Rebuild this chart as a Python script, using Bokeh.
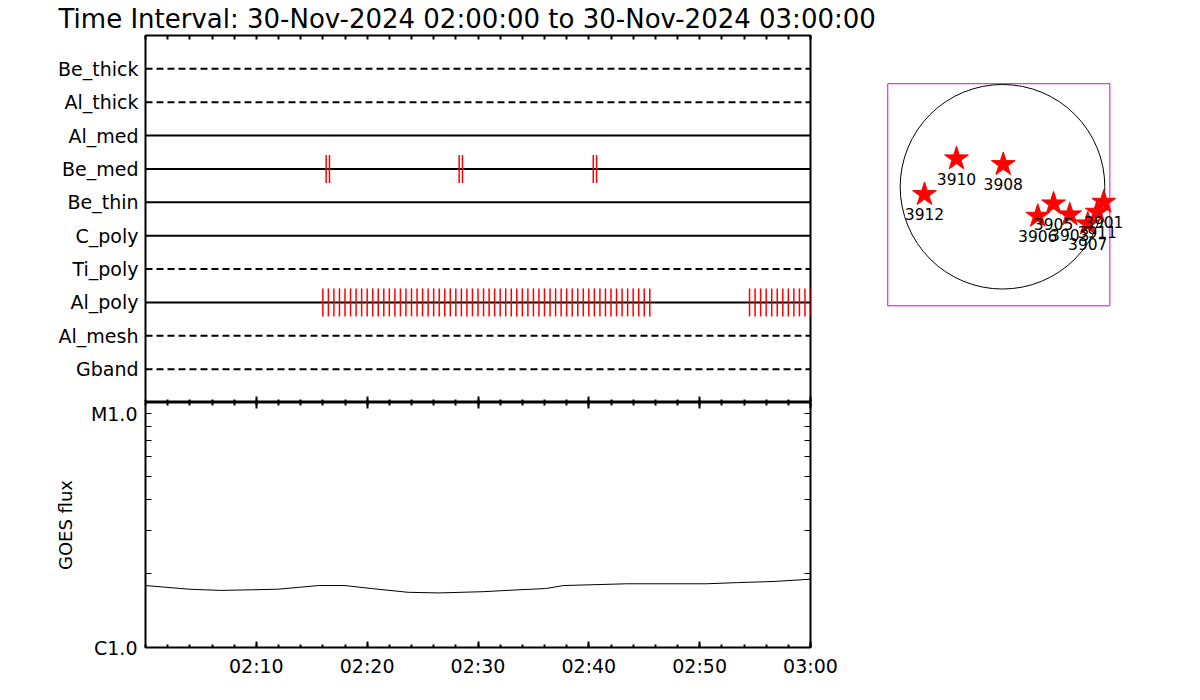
from bokeh.plotting import figure
from bokeh.layouts import row, column
from bokeh.models import Range1d, FixedTicker, LinearAxis, LogAxis, Title
from bokeh.core.properties import value
from bokeh.embed import file_html
from bokeh.resources import INLINE

FONT = "DejaVu Sans"
TITLE = "Time Interval: 30-Nov-2024 02:00:00 to 30-Nov-2024 03:00:00"

# ---------------- data ----------------
channels = ["Be_thick", "Al_thick", "Al_med", "Be_med", "Be_thin",
            "C_poly", "Ti_poly", "Al_poly", "Al_mesh", "Gband"]
channel_dashed = [True, True, False, False, False, False, True, False, True, True]
channel_rows = [10, 9, 8, 7, 6, 5, 4, 3, 2, 1]

be_med_minutes = [16.3, 16.6, 28.3, 28.6, 40.4, 40.7]
al_poly_minutes = [16.0, 16.5, 17.0, 17.5, 18.0, 18.5, 19.0, 19.5, 20.0, 20.5,
                   21.0, 21.5, 22.0, 22.5, 23.0, 23.5, 24.0, 24.5, 25.0, 25.5,
                   26.0, 26.5, 27.0, 27.5, 28.0, 28.5, 29.0, 29.5, 30.0, 30.5,
                   31.0, 31.5, 32.0, 32.5, 33.0, 33.5, 34.0, 34.5, 35.0, 35.5,
                   36.0, 36.5, 37.0, 37.5, 38.0, 38.5, 39.0, 39.5, 40.0, 40.5,
                   41.0, 41.5, 42.0, 42.5, 43.0, 43.5, 44.0, 44.5, 45.0, 45.5,
                   54.5, 55.0, 55.5, 56.0, 56.5, 57.0, 57.5, 58.0, 58.5, 59.0,
                   59.5, 60.0]

goes_minutes = [0, 3.9, 6.8, 9.6, 12.0, 15.6, 18.0, 20.4, 23.7, 26.5,
                30.5, 33.7, 36.1, 37.7, 43.4, 50.6, 53.4, 56.7, 60]
goes_flux = [1.79e-6, 1.73e-6, 1.71e-6, 1.72e-6, 1.73e-6, 1.79e-6, 1.79e-6,
             1.74e-6, 1.68e-6, 1.67e-6, 1.69e-6, 1.72e-6, 1.74e-6, 1.79e-6,
             1.82e-6, 1.82e-6, 1.84e-6, 1.86e-6, 1.90e-6]

T_START, T_END = 0, 60
time_tick_minutes = [10, 20, 30, 40, 50, 60]
time_tick_labels = ["02:10", "02:20", "02:30", "02:40", "02:50", "03:00"]
minor_minutes = [0, 2, 4, 6, 8, 10, 12, 14, 16, 18, 20, 22, 24, 26, 28, 30,
                 32, 34, 36, 38, 40, 42, 44, 46, 48, 50, 52, 54, 56, 58, 60]
flux_ticks = [1e-6, 1e-5]
flux_labels = ["C1.0", "M1.0"]
flux_minor = [2e-6, 3e-6, 4e-6, 5e-6, 6e-6, 7e-6, 8e-6, 9e-6]

ar_numbers = ["3912", "3910", "3908", "3905", "3906", "3903", "3907", "3911", "3901"]
ar_x = [-741, -437, 7, 485, 335, 639, 810, 900, 962]
ar_y = [-73, 266, 212, -162, -279, -266, -352, -241, -146]
R_SUN = 972
FOV_X = (-1090, 1020)
FOV_Y = (-1131, 979)
BOX_COLOR = "#e000e0"

LEFT_W = 145
PLOT_W = 665
RIGHT_W = 70


def blank(ticks):
    return {t: "" for t in ticks}


common = dict(output_backend="svg", toolbar_location=None,
              x_axis_location=None, y_axis_location=None,
              background_fill_color="white", border_fill_color="white")

# ---------------- top panel ----------------
top = figure(frame_width=PLOT_W, frame_height=367,
             x_range=Range1d(T_START, T_END), y_range=Range1d(0, 11),
             min_border_left=LEFT_W, min_border_right=RIGHT_W, min_border_top=35,
             min_border_bottom=0, **common)
top.grid.visible = False
top.outline_line_color = "black"
top.outline_line_width = 2

left_ax = LinearAxis(ticker=FixedTicker(ticks=channel_rows),
                     major_label_overrides=dict(zip(channel_rows, channels)),
                     axis_line_color=None, major_tick_in=0, major_tick_out=0,
                     minor_tick_line_color=None, major_label_standoff=7,
                     major_label_text_font=FONT, major_label_text_font_size="19px",
                     major_label_text_color="black")
top.add_layout(left_ax, "left")

top_ax = LinearAxis(ticker=FixedTicker(ticks=minor_minutes),
                    major_label_overrides=blank(minor_minutes),
                    axis_line_color=None, major_tick_in=4, major_tick_out=0,
                    major_tick_line_width=2, minor_tick_line_color=None,
                    major_label_standoff=0, major_label_text_font_size="1px")
top.add_layout(top_ax, "above")

top.add_layout(Title(text=TITLE, align="left", offset=-87, standoff=3,
                     text_font=FONT, text_font_size="26px",
                     text_font_style="normal", text_color="black"), "above")

sep_ax = LinearAxis(ticker=FixedTicker(ticks=time_tick_minutes, minor_ticks=minor_minutes),
                    major_label_overrides=blank(time_tick_minutes),
                    axis_line_color=None, major_tick_in=6, major_tick_out=0,
                    minor_tick_in=3, minor_tick_out=0,
                    major_tick_line_width=2, minor_tick_line_width=2,
                    major_label_standoff=0, major_label_text_font_size="1px")
top.add_layout(sep_ax, "below")

solid_rows = [r for r, d in zip(channel_rows, channel_dashed) if not d]
dashed_rows = [r for r, d in zip(channel_rows, channel_dashed) if d]
top.segment(x0=[T_START] * len(solid_rows), x1=[T_END] * len(solid_rows),
            y0=solid_rows, y1=solid_rows, line_color="black", line_width=2)
top.segment(x0=[T_START] * len(dashed_rows), x1=[T_END] * len(dashed_rows),
            y0=dashed_rows, y1=dashed_rows, line_color="black", line_width=2,
            line_dash="7 4")

MARK_HALF = 0.42
r_be = channel_rows[channels.index("Be_med")]
r_al = channel_rows[channels.index("Al_poly")]
top.segment(x0=be_med_minutes, x1=be_med_minutes,
            y0=[r_be - MARK_HALF] * len(be_med_minutes),
            y1=[r_be + MARK_HALF] * len(be_med_minutes),
            line_color="red", line_width=1.5)
top.segment(x0=al_poly_minutes, x1=al_poly_minutes,
            y0=[r_al - MARK_HALF] * len(al_poly_minutes),
            y1=[r_al + MARK_HALF] * len(al_poly_minutes),
            line_color="red", line_width=1.5)

# ---------------- bottom panel ----------------
bot = figure(frame_width=PLOT_W, frame_height=245,
             x_range=Range1d(T_START, T_END), y_range=Range1d(1e-6, 1e-5),
             y_axis_type="log",
             min_border_left=LEFT_W, min_border_right=RIGHT_W, min_border_top=0,
             min_border_bottom=38, **common)
bot.grid.visible = False
bot.outline_line_color = "black"
bot.outline_line_width = 2

lax = LogAxis(ticker=FixedTicker(ticks=flux_ticks, minor_ticks=flux_minor),
              major_label_overrides=dict(zip(flux_ticks, flux_labels)),
              axis_line_color=None, major_tick_in=6, major_tick_out=0,
              minor_tick_in=6, minor_tick_out=0,
              major_label_standoff=8, major_label_text_font=FONT,
              major_label_text_font_size="19px", major_label_text_color="black",
              axis_label="GOES flux", axis_label_text_font=FONT,
              axis_label_text_font_style="normal", axis_label_text_font_size="18px",
              axis_label_standoff=12, axis_label_text_color="black")
bot.add_layout(lax, "left")

rax = LogAxis(ticker=FixedTicker(ticks=flux_ticks, minor_ticks=flux_minor),
              major_label_overrides=blank(flux_ticks),
              axis_line_color=None, major_tick_in=6, major_tick_out=0,
              minor_tick_in=6, minor_tick_out=0,
              major_label_standoff=0, major_label_text_font_size="1px")
bot.add_layout(rax, "right")

bax = LinearAxis(ticker=FixedTicker(ticks=time_tick_minutes, minor_ticks=minor_minutes),
                 major_label_overrides=dict(zip(time_tick_minutes, time_tick_labels)),
                 axis_line_color=None, major_tick_in=6, major_tick_out=0,
                 minor_tick_in=3, minor_tick_out=0,
                 major_tick_line_width=2, minor_tick_line_width=2,
                 major_label_standoff=7, major_label_text_font=FONT,
                 major_label_text_font_size="19px", major_label_text_color="black")
bot.add_layout(bax, "below")

tax = LinearAxis(ticker=FixedTicker(ticks=time_tick_minutes, minor_ticks=minor_minutes),
                 major_label_overrides=blank(time_tick_minutes),
                 axis_line_color=None, major_tick_in=6, major_tick_out=0,
                 minor_tick_in=3, minor_tick_out=0,
                 major_tick_line_width=2, minor_tick_line_width=2,
                 major_label_standoff=0, major_label_text_font_size="1px")
bot.add_layout(tax, "above")

bot.line(goes_minutes, goes_flux, line_color="black", line_width=1)

# ---------------- solar disk ----------------
disk = figure(frame_width=260, frame_height=240,
              x_range=Range1d(-1159, 1311), y_range=Range1d(-1223, 1057),
              min_border_left=0, min_border_right=5, min_border_top=75,
              min_border_bottom=5, **common)
disk.grid.visible = False
disk.outline_line_color = None
disk.quad(left=[FOV_X[0]], right=[FOV_X[1]], bottom=[FOV_Y[0]], top=[FOV_Y[1]],
          fill_color=None, line_color=BOX_COLOR, line_width=1)
disk.circle(x=[0], y=[0], radius=[R_SUN], fill_color=None,
            line_color="black", line_width=1)
disk.scatter(ar_x, ar_y, marker="star", size=25, fill_color="red", line_color="red")
disk.text(ar_x, ar_y, text=ar_numbers, text_align="center", text_baseline="middle",
          y_offset=20, text_font=value(FONT), text_font_size="15.5px",
          text_color="black")

layout = row(column(top, bot), disk)
open("out.html", "w").write(file_html(layout, INLINE))
